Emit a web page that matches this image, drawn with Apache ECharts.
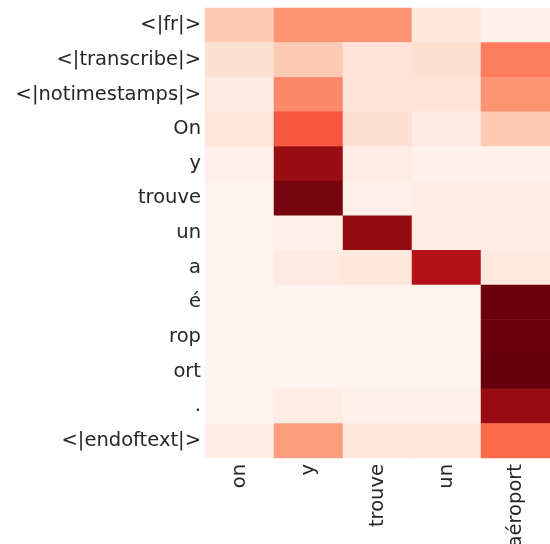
<!DOCTYPE html>
<html>
<head>
<meta charset="utf-8">
<script src="https://cdn.jsdelivr.net/npm/echarts@6/dist/echarts.min.js"></script>
<style>
  html, body { margin: 0; padding: 0; background: #fff; }
  #chart { width: 550px; height: 544px; }
</style>
</head>
<body>
<div id="chart"></div>
<script>
// 列（输出词）和行（token）
const xWords = ['on', 'y', 'trouve', 'un', 'aéroport'];
const yTokens = ['<|fr|>', '<|transcribe|>', '<|notimestamps|>', 'On', 'y', 'trouve', 'un', 'a', 'é', 'rop', 'ort', '.', '<|endoftext|>'];

// 每行的注意力权重
const rowFr          = [0.20, 0.37, 0.37, 0.08, 0.02];
const rowTranscribe  = [0.12, 0.20, 0.10, 0.12, 0.44];
const rowNotimestamp = [0.06, 0.40, 0.10, 0.10, 0.37];
const rowOn          = [0.09, 0.55, 0.12, 0.06, 0.20];
const rowY           = [0.03, 0.90, 0.05, 0.02, 0.02];
const rowTrouve      = [0.01, 0.97, 0.03, 0.04, 0.04];
const rowUn          = [0.01, 0.03, 0.91, 0.05, 0.05];
const rowA           = [0.01, 0.06, 0.08, 0.83, 0.07];
const rowE           = [0.01, 0.01, 0.01, 0.01, 0.99];
const rowRop         = [0.01, 0.01, 0.01, 0.01, 0.99];
const rowOrt         = [0.01, 0.01, 0.01, 0.01, 1.00];
const rowDot         = [0.01, 0.05, 0.03, 0.03, 0.90];
const rowEnd         = [0.04, 0.34, 0.08, 0.08, 0.50];

const rows = [rowFr, rowTranscribe, rowNotimestamp, rowOn, rowY, rowTrouve, rowUn,
              rowA, rowE, rowRop, rowOrt, rowDot, rowEnd];

// matplotlib Reds 色带
const reds = ['#fff5f0', '#fee0d2', '#fcbba1', '#fc9272', '#fb6a4a', '#ef3b2c', '#cb181d', '#a50f15', '#67000d'];

let data = [];
rows.forEach((r, yi) => {
    r.forEach((v, xi) => {
        data.push([xi, yi, v]);
    });
});

let mychart = echarts.init(document.getElementById('chart'));
mychart.setOption({
    animation: false,
    textStyle: { fontFamily: 'DejaVu Sans' },
    grid: { left: 205, right: 0, top: 8, bottom: 86, containLabel: false, outerBoundsMode: 'none' },
    xAxis: {
        type: 'category',
        data: xWords,
        axisLine: { show: false },
        axisTick: { show: false },
        splitLine: { show: false },
        axisLabel: {
            rotate: 90,
            margin: 6,
            color: '#262626',
            fontSize: 19.5,
            fontFamily: 'DejaVu Sans'
        }
    },
    yAxis: {
        type: 'category',
        data: yTokens,
        inverse: true,
        axisLine: { show: false },
        axisTick: { show: false },
        splitLine: { show: false },
        axisLabel: {
            margin: 4,
            color: '#262626',
            fontSize: 19.5,
            fontFamily: 'DejaVu Sans'
        }
    },
    visualMap: {
        show: false,
        min: 0,
        max: 1,
        calculable: false,
        inRange: { color: reds }
    },
    series: [{
        type: 'heatmap',
        data: data,
        itemStyle: { borderWidth: 0 },
        emphasis: { disabled: true }
    }]
});
</script>
</body>
</html>
